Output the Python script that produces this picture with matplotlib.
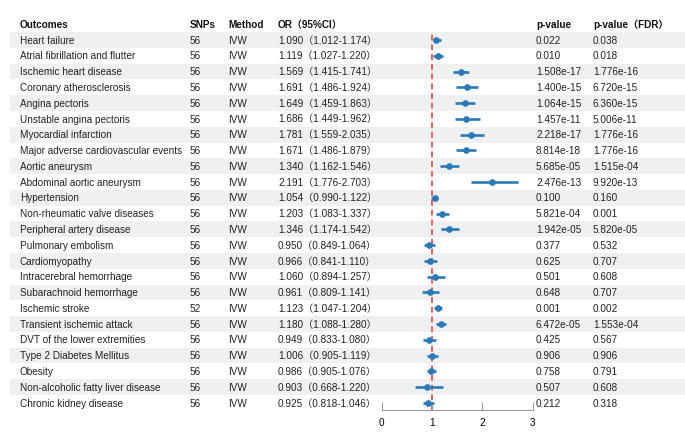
import matplotlib
matplotlib.use("Agg")
import matplotlib.pyplot as plt

outcomes = ["Heart failure", "Atrial fibrillation and flutter", "Ischemic heart disease",
            "Coronary atherosclerosis", "Angina pectoris", "Unstable angina pectoris",
            "Myocardial infarction", "Major adverse cardiovascular events", "Aortic aneurysm",
            "Abdominal aortic aneurysm", "Hypertension", "Non-rheumatic valve diseases",
            "Peripheral artery disease", "Pulmonary embolism", "Cardiomyopathy",
            "Intracerebral hemorrhage", "Subarachnoid hemorrhage", "Ischemic stroke",
            "Transient ischemic attack", "DVT of the lower extremities",
            "Type 2 Diabetes Mellitus", "Obesity", "Non-alcoholic fatty liver disease",
            "Chronic kidney disease"]
snps = [56] * 17 + [52] + [56] * 6
method = ["IVW"] * 24
orv = [1.090, 1.119, 1.569, 1.691, 1.649, 1.686, 1.781, 1.671, 1.340, 2.191, 1.054, 1.203,
       1.346, 0.950, 0.966, 1.060, 0.961, 1.123, 1.180, 0.949, 1.006, 0.986, 0.903, 0.925]
lo = [1.012, 1.027, 1.415, 1.486, 1.459, 1.449, 1.559, 1.486, 1.162, 1.776, 0.990, 1.083,
      1.174, 0.849, 0.841, 0.894, 0.809, 1.047, 1.088, 0.833, 0.905, 0.905, 0.668, 0.818]
hi = [1.174, 1.220, 1.741, 1.924, 1.863, 1.962, 2.035, 1.879, 1.546, 2.703, 1.122, 1.337,
      1.542, 1.064, 1.110, 1.257, 1.141, 1.204, 1.280, 1.080, 1.119, 1.076, 1.220, 1.046]
pval = ["0.022", "0.010", "1.508e-17", "1.400e-15", "1.064e-15", "1.457e-11", "2.218e-17",
        "8.814e-18", "5.685e-05", "2.476e-13", "0.100", "5.821e-04", "1.942e-05", "0.377",
        "0.625", "0.501", "0.648", "0.001", "6.472e-05", "0.425", "0.906", "0.758", "0.507",
        "0.212"]
pfdr = ["0.038", "0.018", "1.776e-16", "6.720e-15", "6.360e-15", "5.006e-11", "1.776e-16",
        "1.776e-16", "1.515e-04", "9.920e-13", "0.160", "0.001", "5.820e-05", "0.532",
        "0.707", "0.608", "0.707", "0.002", "1.553e-04", "0.567", "0.906", "0.791", "0.608",
        "0.318"]
headers = ["Outcomes", "SNPs", "Method", "OR\uff0895%CI\uff09", "p-value", "p-value\uff08FDR\uff09"]

fam = ["Liberation Sans", "Noto Sans CJK SC", "DejaVu Sans"]
fs = 7.2
W, H = 685, 440
pitch = 15.78
y0 = 40.0
base = 0.23  # baseline offset in rows so text looks centred

fig = plt.figure(figsize=(W / 100, H / 100), dpi=100)

# background axes: x in pixels, y in row units
bg = fig.add_axes([0, 0, 1, 1])
bg.set_xlim(0, W)
bg.set_ylim((H - y0) / pitch, -y0 / pitch)
bg.axis("off")

n = len(outcomes)
for i in range(0, n, 2):
    bg.axhspan(i - 0.5, i + 0.5, xmin=10 / W, xmax=1, color="#eef1f0", lw=0, zorder=0)

cols = [20, 190, 228, 278, 536, 593]
for x, h in zip(cols, headers):
    bg.text(x, -1 + base, h, fontsize=fs, fontweight="bold", va="baseline", family=fam,
            color="#111111")

for i in range(n):
    row = [outcomes[i], str(snps[i]), method[i],
           f"{orv[i]:.3f}\uff08{lo[i]:.3f}-{hi[i]:.3f}\uff09", pval[i], pfdr[i]]
    for x, t in zip(cols, row):
        bg.text(x, i + base, t, fontsize=fs, va="baseline", family=fam, color="#222222")

# forest axes
top_px, bot_px = 31, 410
left_px, right_px = 381.5, 532.7
ax = fig.add_axes([left_px / W, (H - bot_px) / H, (right_px - left_px) / W, (bot_px - top_px) / H])
ax.patch.set_alpha(0)
ax.set_xlim(0, 3)
ax.set_ylim((bot_px - y0) / pitch, (top_px - y0) / pitch)
for s in ["top", "right", "left"]:
    ax.spines[s].set_visible(False)
ax.spines["bottom"].set_color("#999999")
ax.spines["bottom"].set_linewidth(0.8)
ax.set_yticks([])
ax.set_xticks([0, 1, 2, 3])
ax.tick_params(axis="x", direction="in", length=6, color="#999999", labelsize=fs, pad=6)
for lab in ax.get_xticklabels():
    lab.set_family(fam)

ax.axvline(1, color="#ee5c5c", ls=(0, (3, 2)), lw=1.4, zorder=1)
rows = list(range(n))
ax.hlines(rows, lo, hi, color="#2a7ab8", lw=1.9, zorder=2)
ax.plot(orv, rows, "o", color="#2a7ab8", ms=3.8, zorder=3)

fig.savefig("out.png", dpi=100)
